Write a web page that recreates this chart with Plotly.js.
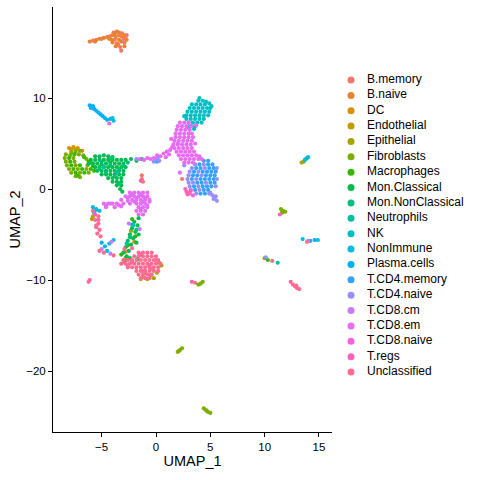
<!DOCTYPE html>
<html>
<head>
<meta charset="utf-8">
<script src="https://cdn.plot.ly/plotly-3.0.1.min.js"></script>
<style>
  html, body { margin: 0; padding: 0; background: #fff; }
  #umap { width: 480px; height: 480px; }
</style>
</head>
<body>
<div id="umap"></div>
<script>
// cell type labels and their ggplot hue colours
const cellTypes = ['B.memory', 'B.naive', 'DC', 'Endothelial', 'Epithelial', 'Fibroblasts',
  'Macrophages', 'Mon.Classical', 'Mon.NonClassical', 'Neutrophils', 'NK', 'NonImmune',
  'Plasma.cells', 'T.CD4.memory', 'T.CD4.naive', 'T.CD8.cm', 'T.CD8.em', 'T.CD8.naive',
  'T.regs', 'Unclassified'];
const typeColors = ['#F8766D', '#EA8331', '#D89000', '#C09B00', '#A3A500', '#7CAE00',
  '#39B600', '#00BB4E', '#00BF7D', '#00C1A3', '#00BFC4', '#00BAE0',
  '#00B0F6', '#35A2FF', '#9590FF', '#C77CFF', '#E76BF3', '#FA62DB',
  '#FF62BC', '#FF6C91'];

// cells, [UMAP_1, UMAP_2]
const ptsBMemory = [[-3.9,17.2],[-3.1,17.1],[-4.2,16.8],[-3.4,16.9],[-2.8,16.7],[-3.8,16.4],[-3.0,16.5],
  [-3.6,16.0],[-2.9,16.1],[-3.3,15.6],[-3.2,15.2],[-5.8,16.3],[-5.0,16.5],[-1.3,1.5],[-1.3,1.1],
  [-1.2,0.8],[-0.3,-8.8],[3.6,-10.3],[2.4,1.1],[-4.4,16.7],[-2.7,16.9]];
const ptsBNaive = [[-3.6,17.3],[-4.0,16.9],[-3.7,16.7],[-3.2,16.8],[-4.3,16.5],[-3.4,16.4],[-2.7,16.4],
  [-4.0,16.1],[-3.2,16.2],[-3.7,15.7],[-2.9,15.7],[-3.5,15.9],[-6.1,16.2],[-5.5,16.4],[-5.2,16.5],
  [-4.8,16.6],[-4.5,16.7],[-5.6,16.2],[-3.0,16.9],[-3.8,17.0],[-3.4,17.2],[-4.1,16.4]];
const ptsDC = [[-8.0,4.5],[-7.6,4.6],[-7.2,4.5],[-6.8,4.2]];
const ptsEndothelial = [[-7.8,4.3],[-7.4,4.3],[-2.0,-5.8],[-2.8,-6.9],[-5.8,-3.0],[13.4,2.9]];
const ptsEpithelial = [[-1.2,-9.6],[-0.8,-9.9],[-0.5,-9.5],[-1.0,-9.2],[0.3,-8.1],[0.5,-8.4],[-2.8,-7.6],
  [-0.2,-9.8],[13.6,3.0],[2.0,-17.9],[-5.9,-3.3],[-2.3,-4.6],[-1.4,-9.9],[0.1,-9.2]];
const ptsFibroblasts = [[-7.8,4.0],[-7.4,4.1],[-7.0,4.2],[-8.3,3.8],[-7.9,3.7],[-7.1,3.8],[-6.7,3.7],
  [-8.4,3.4],[-7.6,3.4],[-6.4,3.3],[-8.3,3.0],[-7.5,3.0],[-6.0,2.9],[-8.2,2.6],[-7.4,2.6],[-6.3,2.6],
  [-8.0,2.2],[-7.2,2.2],[-6.4,2.2],[-7.8,1.8],[-7.0,1.8],[-6.2,1.8],[-7.4,1.4],[-7.0,1.3],
  [11.5,-2.2],[11.7,-2.4],[11.9,-2.5],[11.6,-2.6],[13.9,3.4],[10.0,-7.6],[3.9,-10.5],[4.1,-10.4],
  [4.3,-10.2],[2.2,-17.7],[2.4,-17.5],[2.1,-17.8],[4.4,-24.1],[4.6,-24.3],[4.8,-24.5],[5.0,-24.6],
  [4.7,-24.4]];
const ptsMacrophages = [[-7.5,3.8],[-8.0,3.4],[-7.9,3.0],[-7.8,2.6],[-7.0,2.6],[-5.8,2.5],[-7.6,2.2],
  [-6.8,2.2],[-6.0,2.2],[-7.4,1.8],[-6.6,1.8],[-7.2,1.5],[-6.6,3.5],[-6.2,3.0],[-5.7,2.0],[-1.9,-5.2],
  [-2.6,-6.2],[10.3,-7.8],[-2.2,-3.3],[-3.2,-7.2]];
const ptsMonClassical = [[-5.6,3.6],[-5.2,3.6],[-4.8,3.7],[-4.4,3.6],[-4.0,3.5],
  [-6.0,3.2],[-5.6,3.2],[-5.2,3.2],[-4.8,3.2],[-4.4,3.2],[-4.0,3.2],[-3.6,3.2],[-3.2,3.2],[-2.8,3.2],
  [-2.3,3.3],[-1.8,3.1],[-1.3,3.3],
  [-6.2,2.8],[-5.8,2.8],[-5.4,2.8],[-5.0,2.7],[-4.6,2.8],[-4.2,2.9],[-3.8,2.8],[-3.4,2.8],[-3.0,2.8],
  [-5.6,2.4],[-5.2,2.4],[-4.8,2.4],[-4.4,2.4],[-4.0,2.4],[-3.6,2.4],[-3.2,2.4],[-2.8,2.4],
  [-5.4,2.0],[-5.0,2.0],[-4.6,2.0],[-4.2,2.0],[-3.8,2.0],[-3.4,2.0],[-3.0,2.0],
  [-5.0,1.6],[-4.6,1.6],[-4.2,1.6],[-3.8,1.6],[-3.4,1.6],[-3.0,1.6],
  [-4.4,1.2],[-4.0,1.2],[-3.6,1.2],[-3.2,1.2],[-4.0,0.8],[-3.6,0.8],[-3.2,0.8],[-3.6,0.4],[-3.2,0.4],
  [-3.3,0.0],[-3.1,-0.3],
  [-1.6,-3.2],[-2.0,-3.6],[-1.7,-4.0],[-2.2,-4.3],[-1.9,-4.7],[-2.4,-5.0],[-2.1,-5.4],[-2.6,-5.7],
  [-2.3,-6.1],[-2.8,-6.4],[-2.5,-6.8],[-3.0,-7.0],[-1.8,-5.9],[-1.6,-5.0],[-2.7,-7.4],
  [-2.4,-7.6],[-1.7,-7.7],[-2.9,-8.0]];
const ptsMonNonClassical = [[-5.0,3.0],[-4.2,2.6],[-3.4,2.2],[-4.6,1.8],[-3.8,1.4],[-3.0,2.6],[-5.2,2.2],
  [-2.6,2.9],[-4.1,3.4],[-1.8,-4.5],[-2.4,-5.3],[-3.4,0.6]];
const ptsNeutrophils = [[-3.6,1.8],[-4.8,2.4],[-2.1,-4.0],[-2.7,-6.0],[11.2,-8.1],[13.8,3.3]];
const ptsNK = [[3.9,9.7],[4.3,9.7],[4.6,9.6],
  [3.3,9.3],[3.7,9.3],[4.1,9.3],[4.5,9.3],[4.9,9.4],
  [3.1,8.9],[3.5,8.9],[3.9,8.9],[4.3,8.9],[4.7,8.9],[5.0,8.9],
  [2.9,8.5],[3.3,8.5],[3.7,8.5],[4.1,8.5],[4.5,8.5],[4.9,8.5],
  [2.8,8.1],[3.2,8.1],[3.6,8.1],[4.0,8.1],[4.4,8.1],[4.8,8.1],
  [2.8,7.7],[3.2,7.7],[3.6,7.7],[4.0,7.7],[4.4,7.7],
  [3.0,7.3],[3.4,7.3],[3.8,7.3],[4.2,7.3],[3.2,6.9],[3.6,6.9],
  [2.6,8.0],[5.1,9.1],[3.5,6.6],[4.0,10.0],[3.0,6.8],[-5.5,-2.2],[-2.2,-3.9]];
const ptsNonImmune = [[-4.2,7.7],[-4.0,7.8],[-3.9,7.5],[-5.8,-2.0],[-5.2,-2.4],[-5.7,-2.6],[-3.9,-5.6],
  [-4.3,-6.0],[-4.7,-6.3],[-4.5,-6.8],[13.5,-5.5],[14.9,-5.6],[14.0,3.5],[13.7,3.2],[-5.5,-2.3]];
const ptsPlasmaCells = [[-6.1,9.2],[-6.0,8.9],[-5.8,9.1],[-5.7,8.8],[-5.5,8.6],[-5.3,8.4],[-5.1,8.2],
  [-4.9,8.0],[-4.7,7.8],[-4.5,7.6],[14.6,-5.6],[-5.0,-5.9]];
const ptsTCD4Memory = [[4.4,3.1],[4.8,3.1],[4.0,2.7],[4.8,2.7],[5.2,2.7],
  [3.7,2.3],[4.1,2.3],[4.9,2.3],[5.3,2.3],[3.5,1.9],[4.3,1.9],[4.7,1.9],[5.1,1.9],[5.5,1.9],
  [3.4,1.5],[3.8,1.5],[4.6,1.5],[5.0,1.5],[5.4,1.5],[3.3,1.1],[4.1,1.1],[4.5,1.1],[4.9,1.1],[5.3,1.1],
  [3.8,0.7],[4.2,0.7],[5.0,0.7],[5.4,0.7],[3.5,0.3],[4.3,0.3],[4.7,0.3],[5.1,0.3],
  [3.6,-0.1],[4.4,-0.1],[4.8,-0.1],[4.1,-0.5],[4.5,-0.5],[0.1,3.0],[14.2,-5.7]];
const ptsTCD4Naive = [[3.6,2.7],[4.4,2.7],[3.3,2.3],[4.5,2.3],[5.6,2.3],[3.1,1.9],[3.9,1.9],
  [3.0,1.5],[4.2,1.5],[2.9,1.1],[3.7,1.1],[5.6,1.1],[3.0,0.7],[3.4,0.7],[4.6,0.7],
  [3.1,0.3],[3.9,0.3],[5.5,0.3],[3.2,-0.1],[4.0,-0.1],[3.7,-0.5],[4.9,-0.5],
  [5.0,-0.4],[5.2,-0.7],[5.4,-1.0],[5.6,-1.3],[5.3,-1.1],[5.5,-0.8],
  [0.0,3.3],[0.3,3.1],[-0.2,3.0],[0.2,3.5],[10.1,-7.5],[14.0,-5.7],[2.6,2.6],[-1.8,3.3]];
const ptsTCD8Cm = [[-2.2,-0.6],[-1.4,-0.6],[-2.6,-1.0],[-1.8,-1.0],[-1.0,-1.0],[-4.6,-1.8],[-4.2,-1.6],
  [-3.4,-1.8],[-2.0,-1.4],[-1.2,-1.4],[-0.8,-1.8],[-1.4,-2.2],[-2.5,-3.8],[-1.5,-4.4],[-4.1,-5.8],
  [-5.0,-6.6],[-4.2,-7.1],[2.0,5.0],[-0.6,-1.4]];
const ptsTCD8Em = [[2.2,7.3],[2.6,7.3],[3.0,7.3],[2.0,6.9],[2.4,6.9],[2.8,6.9],[3.2,6.9],
  [1.9,6.5],[2.3,6.5],[2.7,6.5],[3.1,6.5],[1.8,6.1],[2.2,6.1],[2.6,6.1],[3.0,6.1],[3.3,6.1],
  [1.8,5.7],[2.2,5.7],[2.6,5.7],[3.0,5.7],[3.4,5.7],[1.7,5.3],[2.1,5.3],[2.5,5.3],[2.9,5.3],[3.3,5.3],
  [1.6,4.9],[2.0,4.9],[2.4,4.9],[2.8,4.9],[3.2,4.9],[1.7,4.5],[2.1,4.5],[2.5,4.5],[2.9,4.5],[3.3,4.5],
  [1.9,4.1],[2.3,4.1],[2.7,4.1],[3.1,4.1],[3.5,4.1],[2.1,3.7],[2.5,3.7],[2.9,3.7],[3.3,3.7],[3.7,3.7],
  [4.0,3.6],[2.3,3.3],[2.7,3.3],[3.1,3.3],[3.5,3.3],[3.9,3.3],[4.2,3.3],[2.6,2.9],[3.0,2.9],[3.4,2.9],
  [1.3,4.3],[1.0,4.1],[0.7,3.9],[1.2,3.8],[0.4,3.6],[0.1,3.7],[-0.2,3.4],[-0.5,3.3],[-0.8,3.4],
  [0.9,3.5],[1.5,4.6],[-1.1,3.2],[-1.5,3.3],[2.2,1.8],[1.4,5.5],[3.6,5.0],[3.7,7.0],[-4.3,7.2],
  [-2.4,-0.4],[-2.0,-0.4],[-1.6,-0.4],[-1.2,-0.4],[-0.8,-0.4],
  [-2.8,-0.8],[-2.4,-0.8],[-2.0,-0.8],[-1.6,-0.8],[-1.2,-0.8],[-0.8,-0.8],
  [-3.2,-1.2],[-2.6,-1.3],[-2.2,-1.2],[-1.8,-1.2],[-1.4,-1.2],[-1.0,-1.2],[-0.6,-1.2],
  [-4.8,-1.6],[-4.4,-1.6],[-4.0,-1.6],[-3.6,-1.6],[-3.0,-1.6],[-2.4,-1.6],[-1.8,-1.6],[-1.4,-1.6],
  [-1.0,-1.6],[-4.6,-2.0],[-3.8,-2.0],[-3.2,-1.9],[-1.6,-2.0],[-1.2,-2.0],[-0.8,-2.0],
  [-1.8,-2.4],[-1.4,-2.4],[-1.0,-2.4],[-1.6,-2.8],[-1.2,-2.8]];
const ptsTCD8Naive = [[2.8,-0.3],[3.1,-0.5],[3.4,-0.7],[2.9,-0.6]];
const ptsTRegs = [[3.2,-0.2],[2.7,0.0],[-5.6,-2.8],[-5.3,-3.4],[-5.5,-4.2],[-1.4,-7.2],[-2.2,-8.0],
  [-0.6,-8.4],[-1.2,-9.0],[0.0,-7.8],[-2.6,-8.4],[-1.4,0.9],[11.4,-2.8],[3.3,-10.2],[-6.1,-10.0]];
const ptsUnclassified = [[-1.6,-7.0],[-1.2,-7.0],[-0.8,-7.0],[-0.4,-7.0],
  [-2.0,-7.4],[-1.6,-7.4],[-1.2,-7.4],[-0.8,-7.4],[-0.4,-7.4],[0.0,-7.4],
  [-3.0,-7.8],[-2.6,-7.8],[-2.2,-7.8],[-1.8,-7.8],[-1.4,-7.8],[-1.0,-7.8],[-0.6,-7.8],[-0.2,-7.8],[0.2,-7.8],
  [-3.2,-8.2],[-2.8,-8.2],[-2.4,-8.2],[-2.0,-8.2],[-1.6,-8.2],[-1.2,-8.2],[-0.8,-8.2],[-0.4,-8.2],
  [0.0,-8.2],[0.4,-8.2],
  [-2.6,-8.6],[-2.2,-8.6],[-1.8,-8.6],[-1.4,-8.6],[-1.0,-8.6],[-0.6,-8.6],[-0.2,-8.6],[0.2,-8.6],
  [-1.8,-9.0],[-1.4,-9.0],[-1.0,-9.0],[-0.6,-9.0],[-0.2,-9.0],[0.2,-9.0],
  [-1.6,-9.4],[-1.2,-9.4],[-0.8,-9.4],[-0.4,-9.4],[-1.4,-9.8],[-1.0,-9.8],[-0.6,-9.8],
  [-5.3,-3.0],[-5.6,-3.4],[-5.3,-3.8],[-5.2,-4.5],[-5.4,-4.9],[-5.1,-5.2],[-5.8,-2.4],[-5.5,-4.0],
  [-5.2,-6.8],[-4.8,-7.0],[-3.9,-7.3],[-2.9,-6.6],[-2.2,-6.5],
  [13.9,-5.8],[12.4,-10.2],[12.6,-10.5],[12.8,-10.7],[13.0,-10.9],[13.2,-11.0],[12.9,-10.6],
  [10.7,-7.9],[-6.2,-10.2],[2.9,-0.4]];

const pointsByType = [ptsBMemory, ptsBNaive, ptsDC, ptsEndothelial, ptsEpithelial, ptsFibroblasts,
  ptsMacrophages, ptsMonClassical, ptsMonNonClassical, ptsNeutrophils, ptsNK, ptsNonImmune,
  ptsPlasmaCells, ptsTCD4Memory, ptsTCD4Naive, ptsTCD8Cm, ptsTCD8Em, ptsTCD8Naive,
  ptsTRegs, ptsUnclassified];

const traces = cellTypes.map((name, i) => ({
  type: 'scatter',
  mode: 'markers',
  name: name,
  x: pointsByType[i].map(p => p[0]),
  y: pointsByType[i].map(p => p[1]),
  marker: { color: typeColors[i], size: 4.2, line: { width: 0 } },
  showlegend: false,
  hoverinfo: 'name'
}));

// ggplot style key on its own hidden axes: dots, then labels
const keyRows = cellTypes.map((_, i) => -i);
traces.push({
  type: 'scatter',
  mode: 'markers',
  xaxis: 'x2',
  yaxis: 'y2',
  x: cellTypes.map(() => 0),
  y: keyRows,
  marker: { color: typeColors, size: 7 },
  cliponaxis: false,
  showlegend: false,
  hoverinfo: 'skip'
});
traces.push({
  type: 'scatter',
  mode: 'text',
  xaxis: 'x2',
  yaxis: 'y2',
  x: cellTypes.map(() => 1.6),
  y: keyRows,
  text: cellTypes,
  textposition: 'middle right',
  textfont: { size: 12, color: '#000' },
  cliponaxis: false,
  showlegend: false,
  hoverinfo: 'skip'
});

const axisStyle = {
  showline: true,
  linecolor: '#000',
  linewidth: 1,
  ticks: 'outside',
  ticklen: 4,
  tickcolor: '#000',
  showgrid: false,
  zeroline: false,
  tickfont: { size: 11.5, color: '#000' }
};

const layout = {
  width: 480,
  height: 480,
  margin: { l: 53, r: 0, t: 7, b: 48 },
  paper_bgcolor: '#fff',
  plot_bgcolor: '#fff',
  font: { family: 'Liberation Sans, Arial, sans-serif', color: '#000' },
  showlegend: false,
  xaxis: Object.assign({}, axisStyle, {
    domain: [0, 279 / 427],
    range: [-9.48, 16.2],
    tickvals: [-5, 0, 5, 10, 15],
    title: { text: 'UMAP_1', font: { size: 14.5 }, standoff: 3 }
  }),
  yaxis: Object.assign({}, axisStyle, {
    range: [-26.7, 20.0],
    tickvals: [-20, -10, 0, 10],
    title: { text: 'UMAP_2', font: { size: 14.5 }, standoff: 2 }
  }),
  xaxis2: { domain: [287 / 427, 1], range: [-1.1, 12.9], visible: false, anchor: 'y2' },
  yaxis2: { domain: [0, 1], range: [-22.9, 4.75], visible: false, anchor: 'x2' }
};

Plotly.newPlot('umap', traces, layout, { displayModeBar: false, staticPlot: true });
</script>
</body>
</html>
